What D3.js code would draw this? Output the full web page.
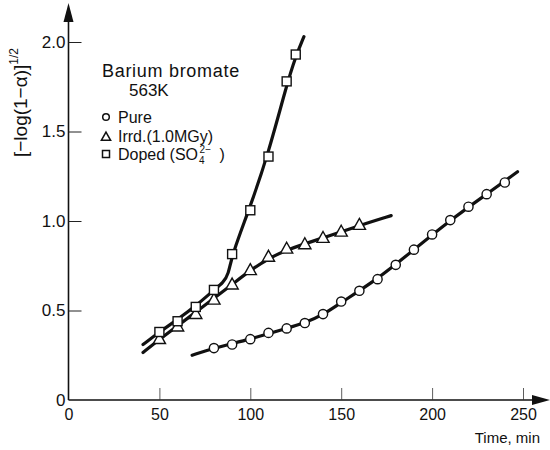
<!DOCTYPE html>
<html>
<head>
<meta charset="utf-8">
<script src="https://cdn.jsdelivr.net/npm/d3@7"></script>
<style>
    body { margin: 0; background: #fff; }
    text { font-family: "Liberation Sans", Arial, sans-serif; fill: #111; }
</style>
</head>
<body>
<div id="chart"></div>
<script>
// Measured points (time in min, [-log(1-a)]^1/2)
const pureTime = [80, 90, 100, 110, 120, 130, 140, 150, 160, 170, 180, 190, 200, 210, 220, 230, 240];
const pureValue = [0.29, 0.31, 0.34, 0.375, 0.40, 0.43, 0.48, 0.55, 0.61, 0.675, 0.755, 0.84, 0.925, 1.005, 1.08, 1.15, 1.215];

const irrdTime = [50, 60, 70, 80, 90, 100, 110, 120, 130, 140, 150, 160];
const irrdValue = [0.34, 0.41, 0.48, 0.56, 0.645, 0.725, 0.80, 0.845, 0.87, 0.905, 0.94, 0.978];

const dopedTime = [50, 60, 70, 80, 90, 100, 110, 120, 125];
const dopedValue = [0.38, 0.44, 0.52, 0.615, 0.815, 1.06, 1.36, 1.78, 1.93];

// Hand drawn fit curves (knots)
const pureFitTime = [68, 80, 100, 120, 130, 140, 150, 170, 190, 210, 230, 247];
const pureFitValue = [0.25, 0.29, 0.34, 0.40, 0.43, 0.475, 0.545, 0.675, 0.84, 1.005, 1.15, 1.275];

const irrdFitTime = [41, 50, 70, 90, 100, 110, 120, 140, 160, 177.5];
const irrdFitValue = [0.265, 0.34, 0.49, 0.645, 0.725, 0.79, 0.84, 0.905, 0.975, 1.03];

const dopedFitTime = [41, 50, 60, 70, 80, 85, 88, 90, 100, 110, 120, 125, 129.5];
const dopedFitValue = [0.31, 0.38, 0.45, 0.525, 0.615, 0.655, 0.70, 0.815, 1.08, 1.38, 1.76, 1.92, 2.03];

const xTicks = [0, 50, 100, 150, 200, 250];
const yTicks = [0, 0.5, 1.0, 1.5, 2.0];

const width = 550, height = 450;

let svg = d3.select("#chart").append("svg")
    .attr("width", width)
    .attr("height", height);

let x = d3.scaleLinear().domain([0, 250]).range([68.5, 523]);
let y = d3.scaleLinear().domain([0, 2]).range([400, 42]);

// Axes lines with arrows
svg.append("line")
    .attr("x1", x(0)).attr("y1", y(0))
    .attr("x2", x(0)).attr("y2", 14)
    .attr("stroke", "#111").attr("stroke-width", 1.6);
svg.append("path")
    .attr("d", `M${x(0)},3 L${x(0) - 5},22 L${x(0) + 5},22 Z`)
    .attr("fill", "#111");

svg.append("line")
    .attr("x1", x(0)).attr("y1", y(0))
    .attr("x2", 540).attr("y2", y(0))
    .attr("stroke", "#111").attr("stroke-width", 1.6);
svg.append("path")
    .attr("d", `M550,${y(0)} L532,${y(0) - 5} L532,${y(0) + 5} Z`)
    .attr("fill", "#111");

// Tick marks and labels
let xAxis = svg.append("g")
    .attr("transform", `translate(0, ${y(0)})`)
    .call(d3.axisBottom(x).tickValues(xTicks).tickSize(-12).tickPadding(9).tickFormat(d3.format("d")));
xAxis.select(".domain").remove();
xAxis.selectAll(".tick line").attr("stroke", "#333").attr("stroke-width", 0.8)
    .filter(d => d === 0).remove();
xAxis.selectAll("text").attr("font-size", 16).style("font-family", "Liberation Sans, Arial, sans-serif");

let yAxis = svg.append("g")
    .attr("transform", `translate(${x(0)}, 0)`)
    .call(d3.axisLeft(y).tickValues(yTicks).tickSize(-13).tickPadding(3)
        .tickFormat(d => d === 0 ? "0" : d.toFixed(1)));
yAxis.select(".domain").remove();
yAxis.selectAll(".tick line").attr("stroke", "#222").attr("stroke-width", 1)
    .filter(d => d === 0).remove();
yAxis.selectAll("text").attr("font-size", 17).style("font-family", "Liberation Sans, Arial, sans-serif");

// Axis titles
svg.append("text")
    .attr("x", 540)
    .attr("y", 443)
    .attr("text-anchor", "end")
    .attr("font-size", 15)
    .text("Time, min");

let yTitle = svg.append("text")
    .attr("transform", "translate(27, 157) rotate(-90)")
    .attr("font-size", 19);
yTitle.append("tspan").text("[\u2212log(1\u2212\u03b1)]");
yTitle.append("tspan").attr("font-size", 12).attr("dy", -9).text("1/2");

// Fit curves
let line = d3.line()
    .x(d => x(d[0]))
    .y(d => y(d[1]))
    .curve(d3.curveBasis);

let fits = [
    d3.zip(pureFitTime, pureFitValue),
    d3.zip(irrdFitTime, irrdFitValue),
    d3.zip(dopedFitTime, dopedFitValue)
];

svg.selectAll(".fit")
    .data(fits)
    .enter()
    .append("path")
    .attr("class", "fit")
    .attr("d", line)
    .attr("fill", "none")
    .attr("stroke", "#111")
    .attr("stroke-width", 3.2)
    .attr("stroke-linecap", "round");

// Markers
const triPath = s => `M0,${-s * 0.62} L${s * 0.58},${s * 0.42} L${-s * 0.58},${s * 0.42} Z`;

svg.selectAll(".pure")
    .data(d3.zip(pureTime, pureValue))
    .enter()
    .append("circle")
    .attr("class", "pure")
    .attr("cx", d => x(d[0]))
    .attr("cy", d => y(d[1]))
    .attr("r", 4.6)
    .attr("fill", "#fff")
    .attr("stroke", "#111")
    .attr("stroke-width", 1.4);

svg.selectAll(".irrd")
    .data(d3.zip(irrdTime, irrdValue))
    .enter()
    .append("path")
    .attr("class", "irrd")
    .attr("transform", d => `translate(${x(d[0])}, ${y(d[1])})`)
    .attr("d", triPath(10.5))
    .attr("fill", "#fff")
    .attr("stroke", "#111")
    .attr("stroke-width", 1.4);

svg.selectAll(".doped")
    .data(d3.zip(dopedTime, dopedValue))
    .enter()
    .append("rect")
    .attr("class", "doped")
    .attr("x", d => x(d[0]) - 4.5)
    .attr("y", d => y(d[1]) - 4.5)
    .attr("width", 9)
    .attr("height", 9)
    .attr("fill", "#fff")
    .attr("stroke", "#111")
    .attr("stroke-width", 1.4);

// Legend
svg.append("text").attr("x", 102).attr("y", 77).attr("font-size", 18)
    .attr("letter-spacing", 0.7).text("Barium bromate");
svg.append("text").attr("x", 129).attr("y", 96).attr("font-size", 17).text("563K");

svg.append("circle").attr("cx", 106).attr("cy", 117).attr("r", 3.3)
    .attr("fill", "#fff").attr("stroke", "#111").attr("stroke-width", 1.5);
svg.append("path").attr("transform", "translate(106, 137)").attr("d", triPath(8))
    .attr("fill", "#fff").attr("stroke", "#111").attr("stroke-width", 1.5);
svg.append("rect").attr("x", 102.5).attr("y", 150.5).attr("width", 7).attr("height", 7)
    .attr("fill", "#fff").attr("stroke", "#111").attr("stroke-width", 1.5);

svg.append("text").attr("x", 118).attr("y", 123).attr("font-size", 16).text("Pure");
svg.append("text").attr("x", 118).attr("y", 142).attr("font-size", 16).text("Irrd.(1.0MGy)");
let doped = svg.append("text").attr("x", 118).attr("y", 160).attr("font-size", 16);
doped.append("tspan").text("Doped (SO");
doped.append("tspan").attr("font-size", 10).attr("dx", 1).attr("dy", 4).text("4");
doped.append("tspan").attr("font-size", 10).attr("dx", -5).attr("dy", -11).text("2\u2212");
doped.append("tspan").attr("dx", 4).attr("dy", 7).text(" )");
</script>
</body>
</html>
